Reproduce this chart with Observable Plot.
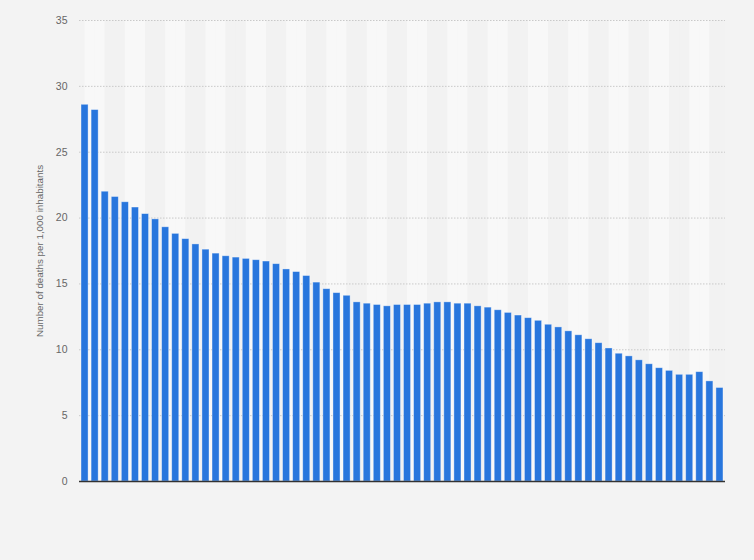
<!DOCTYPE html>
<html>
<head>
<meta charset="utf-8">
<script src="https://cdn.jsdelivr.net/npm/d3@7"></script>
<script src="https://cdn.jsdelivr.net/npm/@observablehq/plot@0.6"></script>
<style>
  html, body { margin: 0; padding: 0; background: #f3f3f3; }
  #chart { width: 754px; height: 560px; }
  svg { display: block; }
</style>
</head>
<body>
<div id="chart"></div>
<script>
// Categories (x-axis labels are not shown in the reference; one entry per bar)
const categories = d3.range(1, 65).map(String);

// Number of deaths per 1,000 inhabitants
const values = [
  28.6, 28.2, 22.0, 21.6, 21.2, 20.8, 20.3, 19.9, 19.3, 18.8,
  18.4, 18.0, 17.6, 17.3, 17.1, 17.0, 16.9, 16.8, 16.7, 16.5,
  16.1, 15.9, 15.6, 15.1, 14.6, 14.3, 14.1, 13.6, 13.5, 13.4,
  13.3, 13.4, 13.4, 13.4, 13.5, 13.6, 13.6, 13.5, 13.5, 13.3,
  13.2, 13.0, 12.8, 12.6, 12.4, 12.2, 11.9, 11.7, 11.4, 11.1,
  10.8, 10.5, 10.1, 9.7, 9.5, 9.2, 8.9, 8.6, 8.4, 8.1,
  8.1, 8.3, 7.6, 7.1
];

// Y tick labels
const yTicks = [0, 5, 10, 15, 20, 25, 30, 35];
const yLabel = "Number of deaths per 1,000 inhabitants";

const data = categories.map((c, i) => ({category: c, value: values[i], index: i}));

const W = 754, H = 560;
const mL = 79, mR = 29, mT = 20, mB = 79;
const pInner = 0.3, pOuter = 0.2;
const step = (W - mL - mR) / (categories.length - pInner + 2 * pOuter);

const chart = Plot.plot({
  width: W,
  height: H,
  marginLeft: mL,
  marginRight: mR,
  marginTop: mT,
  marginBottom: mB,
  style: {background: "#f3f3f3", fontFamily: "'Liberation Sans', Arial, sans-serif"},
  x: {domain: categories, paddingInner: pInner, paddingOuter: pOuter, round: false, axis: null},
  y: {domain: [0, 35], ticks: yTicks},
  marks: [
    // alternating column bands, two categories wide, from bar centre to bar centre
    Plot.barY(data, {
      x: "category",
      y1: 0,
      y2: 35,
      fill: d => (Math.floor(d.index / 2) % 2 === 0 ? "#f8f8f8" : "#f2f2f2"),
      insetLeft: -step * pInner / 2,
      insetRight: -step * pInner / 2,
      dx: step / 2,
      clip: true
    }),
    Plot.gridY(yTicks.filter(t => t > 0), {
      stroke: "#c9c9c9",
      strokeOpacity: 1,
      strokeDasharray: "1.5,1.5"
    }),
    Plot.axisY({
      ticks: yTicks,
      tickSize: 0,
      tickPadding: 12,
      fontSize: 10.5,
      color: "#666",
      label: null
    }),
    Plot.axisY({
      ticks: [],
      tickSize: 0,
      fontSize: 9.8,
      color: "#666",
      label: yLabel,
      labelAnchor: "center",
      labelOffset: 43,
      labelArrow: "none"
    }),
    Plot.barY(data, {
      x: "category",
      y: "value",
      fill: "#2876dd",
      stroke: "#ffffff",
      strokeOpacity: 0.45,
      strokeWidth: 0.8
    }),
    Plot.ruleY([0], {stroke: "#333", strokeWidth: 1.5})
  ]
});

document.getElementById("chart").appendChild(chart);
</script>
</body>
</html>
